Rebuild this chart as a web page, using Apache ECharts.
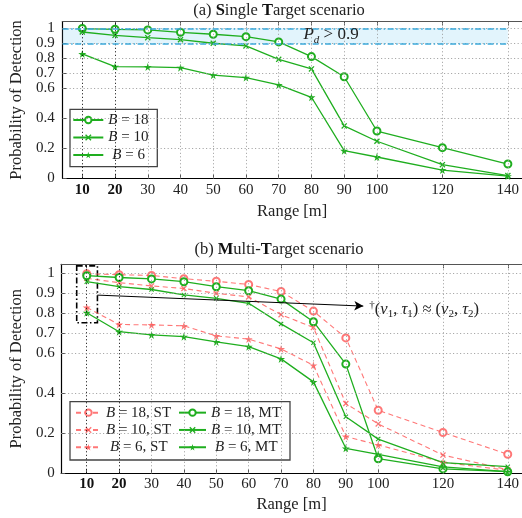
<!DOCTYPE html>
<html>
<head>
<meta charset="utf-8">
<script src="https://cdn.jsdelivr.net/npm/echarts@6/dist/echarts.min.js"></script>
<style>html,body{margin:0;padding:0;background:#fff}#c{width:522px;height:518px}</style>
</head>
<body>
<div id="c"></div>
<script>
// ---------------- data ----------------
const ranges = [10, 20, 30, 40, 50, 60, 70, 80, 90, 100, 120, 140];
// Single-target (ST) results
const st18 = [0.998, 0.993, 0.989, 0.973, 0.960, 0.944, 0.909, 0.811, 0.677, 0.315, 0.204, 0.095];
const st10 = [0.975, 0.953, 0.937, 0.924, 0.900, 0.882, 0.793, 0.729, 0.349, 0.247, 0.091, 0.018];
const st6  = [0.829, 0.744, 0.742, 0.737, 0.687, 0.671, 0.622, 0.540, 0.184, 0.142, 0.055, 0.015];
// Multi-target (MT) results
const mt18 = [0.988, 0.979, 0.972, 0.958, 0.933, 0.913, 0.871, 0.758, 0.546, 0.073, 0.022, 0.008];
const mt10 = [0.958, 0.933, 0.919, 0.892, 0.875, 0.850, 0.747, 0.653, 0.283, 0.171, 0.053, 0.033];
const mt6  = [0.803, 0.708, 0.692, 0.683, 0.657, 0.633, 0.572, 0.457, 0.125, 0.095, 0.032, 0.008];
// tick labels
const xTicks = [10, 20, 30, 40, 50, 60, 70, 80, 90, 100, 120, 140];
const boldTicks = [10, 20];
const yTicks = [0, 0.2, 0.4, 0.6, 0.7, 0.8, 0.9, 1];
// annotation values
const pdBand = [0.9, 1.0];
const pdBandEnd = 140;
const boxX = [6.9, 13.3];
const boxY = [0.753, 1.037];
const arrowFrom = [13.3, 0.891];
const arrowTo = [95.4, 0.836];

// ---------------- styles ----------------
const FONT = "'Liberation Serif', 'DejaVu Serif', serif";
const GREEN = '#1fae1f';
const RED = 'rgba(255,85,85,0.8)';
const GRID = '#9a9a9a';
const xPath = 'path://M0,1.5L1.5,0L5,3.5L8.5,0L10,1.5L6.5,5L10,8.5L8.5,10L5,6.5L1.5,10L0,8.5L3.5,5Z';
const starPath = 'path://M50,0L61,35L98,35L68,57L79,91L50,70L21,91L32,57L2,35L39,35Z';

const X0min = 4, X0max = 144.2;
const X1min = 2.1, X1max = 144.4;
const YMAX = 1.045;

const pairs = arr => ranges.map((r, i) => [r, arr[i]]);

function gridLines(xi) {
  const d = [];
  xTicks.forEach(v => d.push({xAxis: v, lineStyle: {color: boldTicks.includes(v) ? '#000' : GRID, type: [1, 2.5], width: 1}}));
  yTicks.filter(v => v > 0).forEach(v => d.push({yAxis: v, lineStyle: {color: GRID, type: [1, 2.5], width: 1}}));
  return {
    type: 'line', xAxisIndex: xi, yAxisIndex: xi === 0 ? 0 : 1, data: [], z: 1, silent: true,
    markLine: {silent: true, symbol: ['none', 'none'], label: {show: false}, animation: false, data: d}
  };
}

function lineSeries(name, arr, xi, yi, color, symbol, size, dashed) {
  const isPath = symbol.indexOf('path://') === 0;
  return {
    type: 'line', name: name, xAxisIndex: xi, yAxisIndex: yi, data: pairs(arr),
    symbol: symbol, symbolSize: size, z: 2,
    lineStyle: {color: color, width: dashed ? 1.1 : 1.3, type: dashed ? [5, 3.5] : 'solid'},
    itemStyle: isPath ? {color: color, borderWidth: 0} : {color: color, borderColor: color, borderWidth: 1.2},
    emphasis: {disabled: true}
  };
}

const xLabelFmt = v => boldTicks.includes(v) ? '{b|' + v + '}' : '' + v;

function xAxes(gi, min, max, margin, nameGap) {
  return [{
    type: 'value', gridIndex: gi, min: min, max: max, position: 'bottom',
    axisLine: {onZero: false, lineStyle: {color: '#000', width: 1.2}},
    axisTick: {inside: true, length: 4, customValues: xTicks, lineStyle: {color: '#555'}},
    axisLabel: {customValues: xTicks, formatter: xLabelFmt, margin: margin, fontFamily: FONT, fontSize: 15, color: '#222',
      rich: {b: {fontWeight: 'bold', fontFamily: FONT, fontSize: 15, color: '#111'}}},
    splitLine: {show: false},
    name: 'Range [m]', nameLocation: 'middle', nameGap: nameGap,
    nameTextStyle: {fontFamily: FONT, fontSize: 16.5, color: '#222'}
  }, {
    type: 'value', gridIndex: gi, min: min, max: max, position: 'top',
    axisLine: {onZero: false, lineStyle: {color: '#555', width: 1}},
    axisTick: {inside: true, length: 4, customValues: xTicks, lineStyle: {color: '#555'}},
    axisLabel: {show: false, customValues: xTicks},
    splitLine: {show: false}
  }];
}

function yAxis(gi, margin, nameGap) {
  return {
    type: 'value', gridIndex: gi, min: 0, max: YMAX,
    axisLine: {onZero: false, lineStyle: {color: '#000', width: 1.2}},
    axisTick: {inside: true, length: 4, customValues: yTicks, lineStyle: {color: '#555'}},
    axisLabel: {customValues: yTicks, formatter: v => '' + v, margin: margin, fontFamily: FONT, fontSize: 15, color: '#222'},
    splitLine: {show: false},
    name: 'Probability of Detection', nameLocation: 'middle', nameGap: nameGap,
    nameTextStyle: {fontFamily: FONT, fontSize: 16.5, color: '#222'}
  };
}

function legendFmt(name) {
  const m = name.match(/^B = (\d+)(.*)$/);
  const st = m[1].length === 1 ? 'ip' : 'i';
  return '{' + st + '|B}{t| = ' + m[1] + m[2] + '}';
}
function legend(names, left, top, itemWidth, lh) {
  return {
    data: names, orient: 'vertical', left: left, top: top, padding: 0,
    itemWidth: itemWidth, itemHeight: 8, itemGap: 0, selectedMode: false, z: 5,
    itemStyle: {borderWidth: 0},
    formatter: legendFmt,
    textStyle: {fontFamily: FONT, fontSize: 15, color: '#222', lineHeight: lh,
      rich: {
        i: {fontFamily: FONT, fontSize: 15, fontStyle: 'italic', color: '#222', lineHeight: lh},
        ip: {fontFamily: FONT, fontSize: 15, fontStyle: 'italic', color: '#222', lineHeight: lh, padding: [0, 0, 0, 4]},
        t: {fontFamily: FONT, fontSize: 15, color: '#222', lineHeight: lh}
      }}
  };
}

const titleRich = {
  n: {fontFamily: FONT, fontSize: 16.5, fontWeight: 'normal', color: '#222', lineHeight: 18},
  b: {fontFamily: FONT, fontSize: 16.5, fontWeight: 'bold', color: '#111', lineHeight: 18}
};

const option = {
  animation: false,
  backgroundColor: '#fff',
  textStyle: {fontFamily: FONT},
  title: [
    {text: '{n|(a) }{b|S}{n|ingle }{b|T}{n|arget scenario}', left: 279, top: 2, textAlign: 'center', padding: 0,
      textStyle: {fontWeight: 'normal', rich: titleRich}},
    {text: '{n|(b) }{b|M}{n|ulti-}{b|T}{n|arget scenario}', left: 279, top: 241, textAlign: 'center', padding: 0,
      textStyle: {fontWeight: 'normal', rich: titleRich}}
  ],
  grid: [
    {left: 58.5, top: 21.5, right: 0, height: 156.8},
    {left: 56.7, top: 264.3, right: 0, height: 209}
  ],
  xAxis: [].concat(xAxes(0, X0min, X0max, 4, 25), xAxes(1, X1min, X1max, 3, 23)),
  yAxis: [yAxis(0, 8, 34), yAxis(1, 6.5, 33)],
  legend: [
    legend(['B = 18', 'B = 10', 'B = 6'], 72.3, 111.25, 30, 17.5),
    legend(['B = 18, ST', 'B = 10, ST', 'B = 6, ST'], 75, 404, 25, 17.3),
    legend(['B = 18, MT', 'B = 10, MT', 'B = 6, MT'], 178, 404, 27, 17.3)
  ],
  graphic: [
    {type: 'rect', z: 3, shape: {x: 70, y: 109.3, width: 87.3, height: 57.4}, style: {fill: '#fff', stroke: '#444', lineWidth: 1.3}},
    {type: 'rect', z: 3, shape: {x: 70, y: 401.7, width: 220, height: 58.3}, style: {fill: '#fff', stroke: '#444', lineWidth: 1.3}}
  ],
  series: [
    gridLines(0),
    gridLines(2),
    // Pd > 0.9 band (top)
    {
      type: 'line', xAxisIndex: 0, yAxisIndex: 0, data: [], z: 1, silent: true,
      markArea: {silent: true, itemStyle: {color: 'rgba(150,215,245,0.28)'},
        data: [[{coord: [X0min, pdBand[0]]}, {coord: [pdBandEnd, pdBand[1]]}]]},
      markLine: {silent: true, symbol: ['none', 'none'], label: {show: false},
        lineStyle: {color: '#3aa9dc', width: 1.5, type: [6, 2.5, 1.5, 2.5]},
        data: pdBand.map(v => [{coord: [X0min, v]}, {coord: [pdBandEnd, v]}])},
      markPoint: {silent: true, symbol: 'circle', symbolSize: 0,
        data: [{coord: [86, 0.955]}],
        label: {show: true, position: 'inside', formatter: '{i|P}{s|d}{t| > 0.9}',
          rich: {
            i: {fontFamily: FONT, fontSize: 17, fontStyle: 'italic', color: '#222', lineHeight: 22, verticalAlign: 'middle'},
            s: {fontFamily: FONT, fontSize: 11, fontStyle: 'italic', color: '#222', lineHeight: 11, verticalAlign: 'bottom'},
            t: {fontFamily: FONT, fontSize: 17, color: '#222', lineHeight: 22, verticalAlign: 'middle'}
          }}}
    },
    // top chart
    lineSeries('B = 18', st18, 0, 0, GREEN, 'emptyCircle', 7, false),
    lineSeries('B = 10', st10, 0, 0, GREEN, xPath, 6, false),
    lineSeries('B = 6', st6, 0, 0, GREEN, starPath, 8, false),
    // bottom chart
    lineSeries('B = 18, ST', st18, 2, 1, RED, 'emptyCircle', 7, true),
    lineSeries('B = 10, ST', st10, 2, 1, RED, xPath, 6, true),
    lineSeries('B = 6, ST', st6, 2, 1, RED, starPath, 8, true),
    lineSeries('B = 18, MT', mt18, 2, 1, GREEN, 'emptyCircle', 7, false),
    lineSeries('B = 10, MT', mt10, 2, 1, GREEN, xPath, 5, false),
    lineSeries('B = 6, MT', mt6, 2, 1, GREEN, starPath, 8, false),
    // annotations (bottom)
    {
      type: 'line', xAxisIndex: 2, yAxisIndex: 1, data: [], z: 3, silent: true,
      markArea: {silent: true, itemStyle: {color: 'rgba(0,0,0,0)', borderColor: '#000', borderWidth: 1.6, borderType: [6, 2.5, 1.5, 2.5]},
        data: [[{coord: [boxX[0], boxY[1]]}, {coord: [boxX[1], boxY[0]]}]]},
      markLine: {silent: true, symbol: ['none', 'arrow'], symbolSize: [7, 9], label: {show: false},
        lineStyle: {color: '#000', width: 1, type: 'solid'},
        data: [[{coord: arrowFrom}, {coord: arrowTo}]]},
      markPoint: {silent: true, symbol: 'circle', symbolSize: 0,
        data: [{coord: [arrowTo[0], 0.8165]}],
        label: {show: true, position: 'right', distance: 6,
          formatter: '{sup|†}{n|(}{g|ν}{sb|1}{n|, }{g|τ}{sb|1}{n|) ≈ (}{g|ν}{sb|2}{n|, }{g|τ}{sb|2}{n|)}',
          rich: {
            sup: {fontFamily: FONT, fontSize: 11, color: '#222', lineHeight: 11, verticalAlign: 'top'},
            n: {fontFamily: FONT, fontSize: 16.5, color: '#222', lineHeight: 20, verticalAlign: 'middle'},
            g: {fontFamily: FONT, fontSize: 16.5, fontStyle: 'italic', color: '#222', lineHeight: 20, verticalAlign: 'middle'},
            sb: {fontFamily: FONT, fontSize: 11, color: '#222', lineHeight: 11, verticalAlign: 'bottom'}
          }}}
    }
  ]
};

const chart = echarts.init(document.getElementById('c'), null, {renderer: 'canvas'});
chart.setOption(option);
</script>
</body>
</html>
